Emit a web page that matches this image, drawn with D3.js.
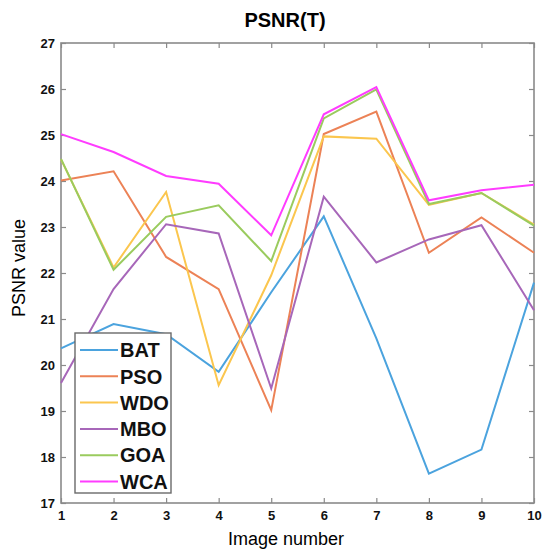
<!DOCTYPE html>
<html>
<head>
<meta charset="utf-8">
<script src="https://cdn.jsdelivr.net/npm/d3@7"></script>
<style>
  body { margin: 0; background: #fff; }
  svg { font-family: "Liberation Sans", Arial, sans-serif; }
</style>
</head>
<body>
<div id="chart"></div>
<script>
// data
const images = [1, 2, 3, 4, 5, 6, 7, 8, 9, 10];
const BAT = [20.36, 20.89, 20.67, 19.85, 21.58, 23.23, 20.58, 17.64, 18.16, 21.79];
const PSO = [24.01, 24.21, 22.35, 21.65, 19.02, 25.02, 25.51, 22.44, 23.21, 22.44];
const WDO = [24.47, 22.12, 23.76, 19.56, 21.95, 24.97, 24.92, 23.48, 23.74, 23.05];
const MBO = [19.61, 21.65, 23.06, 22.86, 19.49, 23.66, 22.23, 22.73, 23.04, 21.19];
const GOA = [24.48, 22.07, 23.22, 23.47, 22.26, 25.36, 25.99, 23.50, 23.74, 23.03];
const WCA = [25.02, 24.63, 24.11, 23.94, 22.82, 25.45, 26.04, 23.58, 23.80, 23.92];
const yTicks = [17, 18, 19, 20, 21, 22, 23, 24, 25, 26, 27];

const series = [
    { name: "BAT", values: BAT, color: "#4ba3de" },
    { name: "PSO", values: PSO, color: "#ec8256" },
    { name: "WDO", values: WDO, color: "#fbc64e" },
    { name: "MBO", values: MBO, color: "#a767b9" },
    { name: "GOA", values: GOA, color: "#9acb5e" },
    { name: "WCA", values: WCA, color: "#ff3cff" }
];

const width = 545, height = 550;
const margin = { top: 43, right: 11, bottom: 47, left: 61 };
const innerW = width - margin.left - margin.right;
const innerH = height - margin.top - margin.bottom;

const svg = d3.select("#chart").append("svg")
    .attr("width", width)
    .attr("height", height);

const g = svg.append("g")
    .attr("transform", `translate(${margin.left},${margin.top})`);

const x = d3.scaleLinear([1, 10], [0, innerW]);
const y = d3.scaleLinear([17, 27], [innerH, 0]);

const axisColor = "#8a8a8a";

// box + inward ticks on all four sides
function styleAxis(sel, showText) {
    sel.select(".domain").remove();
    sel.selectAll(".tick line").attr("stroke", axisColor).attr("stroke-width", 1.2);
    sel.selectAll(".tick text")
        .attr("fill", "#111")
        .style("font-size", "13px")
        .style("font-weight", "bold")
        .style("display", showText ? null : "none");
}

g.append("g")
    .attr("transform", `translate(0,${innerH})`)
    .call(d3.axisBottom(x).tickValues(images).tickFormat(d3.format("d")).tickSizeInner(-5).tickSizeOuter(0).tickPadding(8))
    .call(s => styleAxis(s, true));

g.append("g")
    .call(d3.axisTop(x).tickValues(images).tickSizeInner(-5).tickSizeOuter(0))
    .call(s => styleAxis(s, false));

g.append("g")
    .call(d3.axisLeft(y).tickValues(yTicks).tickFormat(d3.format("d")).tickSizeInner(-5).tickSizeOuter(0).tickPadding(6))
    .call(s => styleAxis(s, true));

g.append("g")
    .attr("transform", `translate(${innerW},0)`)
    .call(d3.axisRight(y).tickValues(yTicks).tickSizeInner(-5).tickSizeOuter(0))
    .call(s => styleAxis(s, false));

g.append("rect")
    .attr("width", innerW)
    .attr("height", innerH)
    .attr("fill", "none")
    .attr("stroke", axisColor)
    .attr("stroke-width", 1.6);

const line = d3.line()
    .x((d, i) => x(images[i]))
    .y(d => y(d));

g.selectAll(".series")
    .data(series)
    .join("path")
    .attr("class", "series")
    .attr("fill", "none")
    .attr("stroke", d => d.color)
    .attr("stroke-width", 2)
    .attr("stroke-linejoin", "miter")
    .attr("d", d => line(d.values));

// legend
const legend = g.append("g")
    .attr("transform", `translate(${75 - margin.left},${333 - margin.top})`);

legend.append("rect")
    .attr("width", 96)
    .attr("height", 160)
    .attr("fill", "#fff")
    .attr("stroke", "#6a6a6a")
    .attr("stroke-width", 1.4);

const item = legend.selectAll(".item")
    .data(series)
    .join("g")
    .attr("class", "item")
    .attr("transform", (d, i) => `translate(0,${17 + i * 26.3})`);

item.append("line")
    .attr("x1", 5).attr("x2", 43)
    .attr("stroke", d => d.color)
    .attr("stroke-width", 2);

item.append("text")
    .attr("x", 45)
    .attr("dy", "0.36em")
    .style("font-size", "20px")
    .style("font-weight", "bold")
    .attr("fill", "#111")
    .text(d => d.name);

// titles
svg.append("text")
    .attr("x", 285)
    .attr("y", 27)
    .attr("text-anchor", "middle")
    .style("font-size", "20px")
    .style("font-weight", "bold")
    .text("PSNR(T)");

svg.append("text")
    .attr("x", 286)
    .attr("y", 545)
    .attr("text-anchor", "middle")
    .style("font-size", "18px")
    .text("Image number");

svg.append("text")
    .attr("transform", `translate(25,${268}) rotate(-90)`)
    .attr("text-anchor", "middle")
    .style("font-size", "18px")
    .text("PSNR value");
</script>
</body>
</html>
